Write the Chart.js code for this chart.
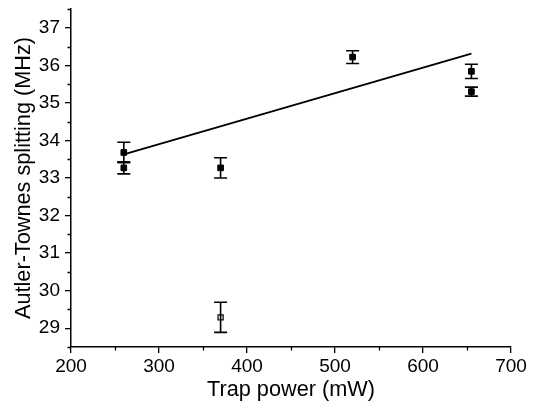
<!DOCTYPE html>
<html><head><meta charset="utf-8">
<script src="https://cdn.jsdelivr.net/npm/chart.js@4/dist/chart.umd.min.js"></script>
<style>html,body{margin:0;padding:0;background:#fff}#wrap{width:540px;height:405px}</style>
</head><body><div id="wrap"><canvas id="c" width="540" height="405"></canvas></div>
<script>
// Filled measurements: trap power (mW), splitting (MHz), error (MHz)
const powerFilled = [260, 260, 370, 520, 655, 655];
const splitFilled = [33.68, 33.27, 33.27, 36.22, 35.84, 35.30];
const errFilled   = [0.27, 0.16, 0.27, 0.17, 0.19, 0.12];
// Open measurement
const powerOpen = [370];
const splitOpen = [29.29];
const errOpen   = [0.40];
// Linear fit endpoints
const fitPower = [260, 655];
const fitSplit = [33.63, 36.31];
// Axis ticks
const xTicks = [200, 300, 400, 500, 600, 700];
const yTicks = [29, 30, 31, 32, 33, 34, 35, 36, 37];

const FONT = "'Liberation Sans', Arial, Helvetica, sans-serif";

const errorBars = {
  id: 'errorBars',
  afterDatasetsDraw(chart) {
    const ctx = chart.ctx, xs = chart.scales.x, ys = chart.scales.y;
    ctx.save();
    ctx.strokeStyle = '#000';
    ctx.lineWidth = 1.6;
    chart.data.datasets.forEach((ds) => {
      if (!ds.errors) return;
      ds.data.forEach((p, i) => {
        const px = xs.getPixelForValue(p.x);
        const yt = ys.getPixelForValue(p.y + ds.errors[i]);
        const yb = ys.getPixelForValue(p.y - ds.errors[i]);
        ctx.beginPath();
        ctx.moveTo(px, yt); ctx.lineTo(px, yb);
        ctx.moveTo(px - 6.5, yt); ctx.lineTo(px + 6.5, yt);
        ctx.moveTo(px - 6.5, yb); ctx.lineTo(px + 6.5, yb);
        ctx.stroke();
      });
    });
    ctx.restore();
  }
};

const minorTicks = {
  id: 'minorTicks',
  afterDraw(chart) {
    const ctx = chart.ctx, xs = chart.scales.x, ys = chart.scales.y;
    const ca = chart.chartArea;
    ctx.save();
    ctx.strokeStyle = '#000';
    ctx.lineWidth = 1.3;
    ctx.beginPath();
    xs.ticks.forEach(t => {
      if (t.value % 100 !== 0) {
        const px = Math.round(xs.getPixelForValue(t.value)) + 0.5;
        ctx.moveTo(px, ca.bottom); ctx.lineTo(px, ca.bottom + 3.5);
      }
    });
    ys.ticks.forEach(t => {
      if (Math.abs(t.value - Math.round(t.value)) > 1e-6) {
        const py = Math.round(ys.getPixelForValue(t.value)) + 0.5;
        ctx.moveTo(ca.left, py); ctx.lineTo(ca.left - 3.5, py);
      }
    });
    ctx.stroke();
    ctx.restore();
  }
};

const isMajorX = v => xTicks.includes(v);
const isMajorY = v => yTicks.some(t => Math.abs(t - v) < 1e-6);

new Chart(document.getElementById('c'), {
  type: 'scatter',
  data: {
    datasets: [
      {
        label: 'fit', type: 'line',
        data: fitPower.map((x, i) => ({x, y: fitSplit[i]})),
        borderColor: '#000', borderWidth: 1.8, pointRadius: 0, fill: false, order: 3
      },
      {
        label: 'filled',
        data: powerFilled.map((x, i) => ({x, y: splitFilled[i]})),
        errors: errFilled,
        pointStyle: 'rect', pointRadius: 4, backgroundColor: '#000', borderColor: '#000', borderWidth: 1, order: 1
      },
      {
        label: 'open',
        data: powerOpen.map((x, i) => ({x, y: splitOpen[i]})),
        errors: errOpen,
        pointStyle: 'rect', pointRadius: 3.6, backgroundColor: '#fff', borderColor: '#000', borderWidth: 1.2, order: 2
      }
    ]
  },
  options: {
    responsive: false, animation: false, devicePixelRatio: 1,
    layout: { padding: { left: 0, right: 29, top: 9, bottom: 0 } },
    plugins: { legend: { display: false }, tooltip: { enabled: false } },
    scales: {
      x: {
        type: 'linear', min: 200, max: 700,
        afterFit: s => { s.height = 58; s.paddingLeft = 0; s.paddingRight = 0; },
        border: { display: true, color: '#000', width: 1.5 },
        grid: { drawOnChartArea: false, drawTicks: true, tickLength: 6,
                color: c => isMajorX(c.tick.value) ? '#000' : 'rgba(0,0,0,0)', lineWidth: 1.3 },
        ticks: { stepSize: 50, autoSkip: false, maxRotation: 0, padding: 2, color: '#000',
                 font: { family: FONT, size: 19 },
                 callback: v => isMajorX(v) ? String(v) : '' },
        title: { display: true, text: 'Trap power (mW)', color: '#000',
                 font: { family: FONT, size: 21.7 }, padding: { top: 0, bottom: 2 } }
      },
      y: {
        type: 'linear', min: 28.5, max: 37.5,
        afterFit: s => { s.width = 71; s.paddingTop = 0; s.paddingBottom = 0; },
        border: { display: true, color: '#000', width: 1.5 },
        grid: { drawOnChartArea: false, drawTicks: true, tickLength: 6,
                color: c => isMajorY(c.tick.value) ? '#000' : 'rgba(0,0,0,0)', lineWidth: 1.3 },
        ticks: { stepSize: 0.5, autoSkip: false, padding: 5, color: '#000',
                 font: { family: FONT, size: 19 },
                 callback: v => isMajorY(v) ? String(Math.round(v)) : '' },
        title: { display: true, text: 'Autler-Townes splitting (MHz)', color: '#000',
                 font: { family: FONT, size: 21.7 }, padding: { top: 11.5, bottom: 0 } }
      }
    }
  },
  plugins: [errorBars, minorTicks]
});
</script>
</body></html>
